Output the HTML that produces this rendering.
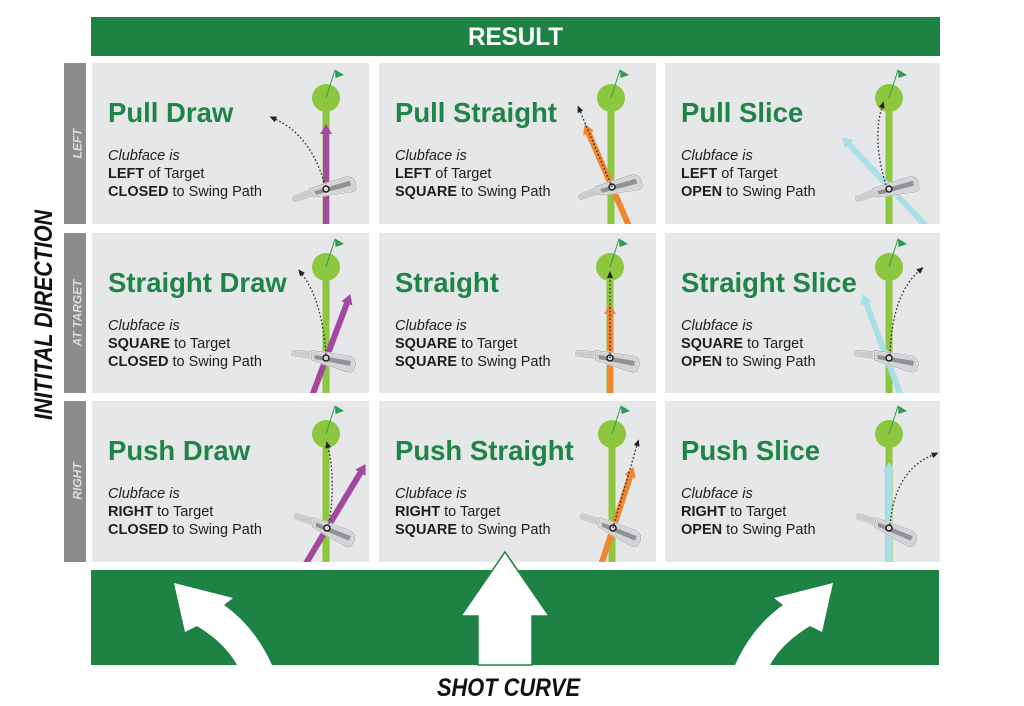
<!DOCTYPE html>
<html><head><meta charset="utf-8"><style>
html,body{margin:0;padding:0;background:#fff;}
svg{display:block;font-family:"Liberation Sans",Arial,sans-serif;}
.t{font-size:27.5px;font-weight:bold;fill:#1f8447;}
.b{font-size:14.5px;fill:#1e1e1e;}
.b .i{font-style:italic;}
.b .k{font-weight:bold;}
.lab{font-size:12px;font-weight:bold;font-style:italic;fill:#dedede;}
.dot{fill:none;stroke:#2a2a2a;stroke-width:1.3;stroke-dasharray:1.6 2.2;}
</style></head><body>
<svg width="1024" height="706" viewBox="0 0 1024 706" xmlns="http://www.w3.org/2000/svg">
<defs>
<marker id="mP" viewBox="-1 -6 10 12" refX="0" refY="0" markerWidth="10" markerHeight="12" markerUnits="userSpaceOnUse" orient="auto"><path d="M-1,-6 L9,0 L-1,6 Z" fill="#a4479e"/></marker>
<marker id="mO" viewBox="-1 -6 10 12" refX="0" refY="0" markerWidth="10" markerHeight="12" markerUnits="userSpaceOnUse" orient="auto"><path d="M-1,-6 L9,0 L-1,6 Z" fill="#f08630"/></marker>
<marker id="mB" viewBox="-1 -6 10 12" refX="0" refY="0" markerWidth="10" markerHeight="12" markerUnits="userSpaceOnUse" orient="auto"><path d="M-1,-6 L9,0 L-1,6 Z" fill="#a8dfe6"/></marker>
<marker id="mD" viewBox="-1 -3 7 6" refX="0" refY="0" markerWidth="7" markerHeight="6" markerUnits="userSpaceOnUse" orient="auto"><path d="M-1,-3 L6,0 L-1,3 Z" fill="#222"/></marker>
<g id="club">
  <path d="M-34,-3 L-16,-4.5 L-14,2.5 L-34,2.5 Q-36,0 -34,-3 Z" fill="#cacbcd" stroke="#fff" stroke-width="1.2"/>
  <path d="M-34,-3 L-16,-4.5 L-14,2.5 L-34,2.5 Q-36,0 -34,-3 Z" fill="none" stroke="#8e9093" stroke-width="0.5"/>
  <path d="M-16,-5.5 L22,-5.5 Q30,-4.5 30,3 L29,9 Q27,11.5 21,10.5 L-14,4 Z" fill="#d3d4d6" stroke="#fff" stroke-width="1.4"/>
  <path d="M-16,-5.5 L22,-5.5 Q30,-4.5 30,3 L29,9 Q27,11.5 21,10.5 L-14,4 Z" fill="none" stroke="#8a8c8f" stroke-width="0.6"/>
  <path d="M-12,-1.5 L25,-0.5 L25,4.5 L-11,2.5 Z" fill="#909295"/>
  <circle cx="0" cy="0" r="3" fill="#d8d8d8" stroke="#1a1a1a" stroke-width="1.4"/>
</g>
<g id="tgt">
  <rect x="-3.5" y="0" width="7" height="200" fill="#8dc63f"/>
  <circle cx="0" cy="0" r="14" fill="#8dc63f"/>
  <line x1="0" y1="0" x2="9" y2="-28" stroke="#2f9a50" stroke-width="1"/>
  <path d="M9,-28.5 L18,-23 L9.5,-20 Z" fill="#2f9a50"/>
</g>
<clipPath id="c11"><rect x="92" y="63" width="277" height="161"/></clipPath>
<clipPath id="c12"><rect x="379" y="63" width="277" height="161"/></clipPath>
<clipPath id="c13"><rect x="665" y="63" width="275" height="161"/></clipPath>
<clipPath id="c21"><rect x="92" y="233" width="277" height="160"/></clipPath>
<clipPath id="c22"><rect x="379" y="233" width="277" height="160"/></clipPath>
<clipPath id="c23"><rect x="665" y="233" width="275" height="160"/></clipPath>
<clipPath id="c31"><rect x="92" y="401" width="277" height="161"/></clipPath>
<clipPath id="c32"><rect x="379" y="401" width="277" height="161"/></clipPath>
<clipPath id="c33"><rect x="665" y="401" width="275" height="161"/></clipPath>
</defs>

<!-- top bar -->
<rect x="91" y="17" width="849" height="39" fill="#1f8245"/>
<text x="468" y="45" font-size="25" font-weight="bold" fill="#fff" textLength="95" lengthAdjust="spacingAndGlyphs">RESULT</text>

<!-- side title -->
<text transform="translate(52,315) rotate(-90)" x="0" y="0" text-anchor="middle" font-size="25" font-weight="bold" font-style="italic" fill="#111" textLength="210" lengthAdjust="spacingAndGlyphs">INITITAL DIRECTION</text>

<!-- gray labels -->
<rect x="64" y="63" width="22" height="161" fill="#8b8c8e"/>
<rect x="64" y="233" width="22" height="160" fill="#8b8c8e"/>
<rect x="64" y="401" width="22" height="161" fill="#8b8c8e"/>
<text class="lab" transform="translate(81.5,143.5) rotate(-90)" text-anchor="middle">LEFT</text>
<text class="lab" transform="translate(81.5,313) rotate(-90)" text-anchor="middle">AT TARGET</text>
<text class="lab" transform="translate(81.5,481) rotate(-90)" text-anchor="middle">RIGHT</text>

<!-- cells -->
<rect x="92" y="63" width="277" height="161" fill="#e6e7e8"/>
<rect x="379" y="63" width="277" height="161" fill="#e6e7e8"/>
<rect x="665" y="63" width="275" height="161" fill="#e6e7e8"/>
<rect x="92" y="233" width="277" height="160" fill="#e6e7e8"/>
<rect x="379" y="233" width="277" height="160" fill="#e6e7e8"/>
<rect x="665" y="233" width="275" height="160" fill="#e6e7e8"/>
<rect x="92" y="401" width="277" height="161" fill="#e6e7e8"/>
<rect x="379" y="401" width="277" height="161" fill="#e6e7e8"/>
<rect x="665" y="401" width="275" height="161" fill="#e6e7e8"/>

<!-- Row 1 -->
<text class="t" x="108" y="122">Pull Draw</text>
<text class="b" x="108" y="160"><tspan class="i">Clubface is</tspan></text>
<text class="b" x="108" y="178"><tspan class="k">LEFT</tspan> of Target</text>
<text class="b" x="108" y="196"><tspan class="k">CLOSED</tspan> to Swing Path</text>
<g clip-path="url(#c11)">
  <use href="#tgt" x="326" y="98"/>
  <line x1="326" y1="226" x2="326" y2="133" stroke="#a4479e" stroke-width="6" marker-end="url(#mP)"/>
  <use href="#club" transform="translate(326,189) rotate(-18)"/>
  <path class="dot" d="M324,182 Q310,135 275,119" marker-end="url(#mD)"/>
</g>

<text class="t" x="395" y="122">Pull Straight</text>
<text class="b" x="395" y="160"><tspan class="i">Clubface is</tspan></text>
<text class="b" x="395" y="178"><tspan class="k">LEFT</tspan> of Target</text>
<text class="b" x="395" y="196"><tspan class="k">SQUARE</tspan> to Swing Path</text>
<g clip-path="url(#c12)">
  <use href="#tgt" x="611" y="98"/>
  <line x1="629" y1="226" x2="588.2" y2="132.3" stroke="#f08630" stroke-width="6" marker-end="url(#mO)"/>
  <use href="#club" transform="translate(612,187) rotate(-18)"/>
  <path class="dot" d="M612,187 L580,111" marker-end="url(#mD)"/>
</g>

<text class="t" x="681" y="122">Pull Slice</text>
<text class="b" x="681" y="160"><tspan class="i">Clubface is</tspan></text>
<text class="b" x="681" y="178"><tspan class="k">LEFT</tspan> of Target</text>
<text class="b" x="681" y="196"><tspan class="k">OPEN</tspan> to Swing Path</text>
<g clip-path="url(#c13)">
  <use href="#tgt" x="889" y="98"/>
  <line x1="926" y1="226" x2="848.5" y2="143.8" stroke="#a8dfe6" stroke-width="6" marker-end="url(#mB)"/>
  <use href="#club" transform="translate(889,189) rotate(-18)"/>
  <path class="dot" d="M886,185 Q872,140 882,107" marker-end="url(#mD)"/>
</g>

<!-- Row 2 -->
<text class="t" x="108" y="292">Straight Draw</text>
<text class="b" x="108" y="330"><tspan class="i">Clubface is</tspan></text>
<text class="b" x="108" y="348"><tspan class="k">SQUARE</tspan> to Target</text>
<text class="b" x="108" y="366"><tspan class="k">CLOSED</tspan> to Swing Path</text>
<g clip-path="url(#c21)">
  <use href="#tgt" x="326" y="267"/>
  <line x1="312" y1="396" x2="347.2" y2="302.5" stroke="#a4479e" stroke-width="6" marker-end="url(#mP)"/>
  <use href="#club" transform="translate(326,358) rotate(8)"/>
  <path class="dot" d="M326,355 Q322,300 302,274" marker-end="url(#mD)"/>
</g>

<text class="t" x="395" y="292">Straight</text>
<text class="b" x="395" y="330"><tspan class="i">Clubface is</tspan></text>
<text class="b" x="395" y="348"><tspan class="k">SQUARE</tspan> to Target</text>
<text class="b" x="395" y="366"><tspan class="k">SQUARE</tspan> to Swing Path</text>
<g clip-path="url(#c22)">
  <use href="#tgt" x="610" y="267"/>
  <line x1="610" y1="396" x2="610" y2="313" stroke="#f08630" stroke-width="6" marker-end="url(#mO)"/>
  <use href="#club" transform="translate(610,358) rotate(8)"/>
  <path class="dot" d="M610,358 L610,277" marker-end="url(#mD)"/>
</g>

<text class="t" x="681" y="292">Straight Slice</text>
<text class="b" x="681" y="330"><tspan class="i">Clubface is</tspan></text>
<text class="b" x="681" y="348"><tspan class="k">SQUARE</tspan> to Target</text>
<text class="b" x="681" y="366"><tspan class="k">OPEN</tspan> to Swing Path</text>
<g clip-path="url(#c23)">
  <use href="#tgt" x="889" y="267"/>
  <line x1="901" y1="396" x2="865.8" y2="302.5" stroke="#a8dfe6" stroke-width="6" marker-end="url(#mB)"/>
  <use href="#club" transform="translate(889,358) rotate(8)"/>
  <path class="dot" d="M890,355 Q892,295 919,271" marker-end="url(#mD)"/>
</g>

<!-- Row 3 -->
<text class="t" x="108" y="460">Push Draw</text>
<text class="b" x="108" y="498"><tspan class="i">Clubface is</tspan></text>
<text class="b" x="108" y="516"><tspan class="k">RIGHT</tspan> to Target</text>
<text class="b" x="108" y="534"><tspan class="k">CLOSED</tspan> to Swing Path</text>
<g clip-path="url(#c31)">
  <use href="#tgt" x="326" y="434"/>
  <line x1="305" y1="565" x2="360.9" y2="471.9" stroke="#a4479e" stroke-width="6" marker-end="url(#mP)"/>
  <use href="#club" transform="translate(327,528) rotate(20)"/>
  <path class="dot" d="M329,524 Q336,480 328,447" marker-end="url(#mD)"/>
</g>

<text class="t" x="395" y="460">Push Straight</text>
<text class="b" x="395" y="498"><tspan class="i">Clubface is</tspan></text>
<text class="b" x="395" y="516"><tspan class="k">RIGHT</tspan> to Target</text>
<text class="b" x="395" y="534"><tspan class="k">SQUARE</tspan> to Swing Path</text>
<g clip-path="url(#c32)">
  <use href="#tgt" x="612" y="434"/>
  <line x1="601" y1="565" x2="630.5" y2="475.6" stroke="#f08630" stroke-width="6" marker-end="url(#mO)"/>
  <use href="#club" transform="translate(613,528) rotate(20)"/>
  <path class="dot" d="M613,528 L637,445" marker-end="url(#mD)"/>
</g>

<text class="t" x="681" y="460">Push Slice</text>
<text class="b" x="681" y="498"><tspan class="i">Clubface is</tspan></text>
<text class="b" x="681" y="516"><tspan class="k">RIGHT</tspan> to Target</text>
<text class="b" x="681" y="534"><tspan class="k">OPEN</tspan> to Swing Path</text>
<g clip-path="url(#c33)">
  <use href="#tgt" x="889" y="434"/>
  <line x1="889" y1="565" x2="889" y2="471" stroke="#a8dfe6" stroke-width="6" marker-end="url(#mB)"/>
  <use href="#club" transform="translate(889,528) rotate(20)"/>
  <path class="dot" d="M890,525 Q895,470 933,455" marker-end="url(#mD)"/>
</g>

<!-- bottom bar -->
<rect x="91" y="570" width="848" height="95" fill="#1f8245"/>
<path d="M237,665 Q225,643 197,626 L185,632 L174,583 L233,598 L224,605 Q255,627 272,665 Z" fill="#fff"/>
<path d="M770,665 Q782,643 810,626 L822,632 L833,583 L774,598 L783,605 Q752,627 735,665 Z" fill="#fff"/>
<path d="M505,552 L549,616 L532,616 L532,665 L478,665 L478,616 L461,616 Z" fill="#fff" stroke="#1f8245" stroke-width="1.5" stroke-linejoin="miter"/>

<text x="437" y="696" font-size="25" font-weight="bold" font-style="italic" fill="#111" textLength="143" lengthAdjust="spacingAndGlyphs">SHOT CURVE</text>
</svg>
</body></html>
